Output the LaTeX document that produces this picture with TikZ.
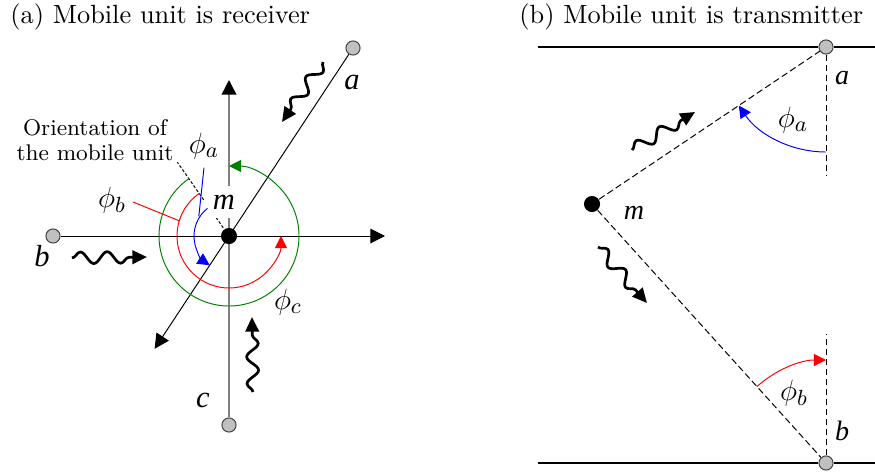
\documentclass[tikz,border=0pt]{standalone}
\usepackage{fontspec}
\newfontfamily\tms{Liberation Serif}
\usetikzlibrary{arrows.meta,decorations.pathmorphing,calc}
\definecolor{dgreen}{RGB}{0,128,0}
\definecolor{srcgray}{RGB}{192,192,192}
\begin{document}
\begin{tikzpicture}[x=0.41pt,y=0.41pt,
  tip/.style={-{Triangle[length=6pt,width=6pt]}},
  arctip/.style={-{Triangle[length=5pt,width=5pt]}},
  src/.style={circle,draw=black!75,fill=srcgray,line width=0.4pt,minimum size=5.8pt,inner sep=0pt},
  mdot/.style={circle,fill=black,minimum size=6.6pt,inner sep=0pt},
  wave/.style={line width=1.1pt,decorate,decoration={snake,amplitude=2.4pt,segment length=11pt,post length=4.5pt},-{Triangle[length=6pt,width=5.5pt]}},
  letA/.style={font=\fontsize{12.5}{14}\tms\itshape},
  letB/.style={font=\fontsize{11.5}{13}\tms\itshape},
  philab/.style={font=\fontsize{12.5}{14}\selectfont},
  title/.style={anchor=west,inner sep=0pt,font=\fontsize{10.8}{13}\selectfont},
  dashline/.style={dash pattern=on 2.7pt off 1.4pt,line width=0.4pt},
  orient/.style={dash pattern=on 1.2pt off 0.8pt,line width=0.4pt},
  thinl/.style={line width=0.4pt}
]
\useasboundingbox (0,0) rectangle (875,474);

% ---------------- panel (a) ----------------
\node[title] (ta) at (10,457) {(a) Mobile unit is receiver};
\coordinate (m) at (229,238);
\node[src] (a) at (353,426) {};
\node[src] (b) at (53,238) {};
\node[src] (c) at (229,49) {};
\coordinate (xe) at (385,238);
\coordinate (ye) at (229,394);
\coordinate (de) at ($(m)!-0.6!(a)$);
\coordinate (o1) at ($(m)+(125:10)$);
\coordinate (o2) at ($(m)+(125:90)$);

\draw[orient] (o1) -- (o2);
\draw[thinl,tip] (b) -- (xe);
\draw[gray,line width=0.6pt,-{Triangle[length=6pt,width=6pt,color=black]}] (c) -- (ye);
\node[letA,fill=white,inner sep=3.5pt] (ml) at (224,272) {m};
\draw[thinl,tip] (a) -- (de);

% angle arcs
\draw[blue,thinl,arctip] ($(m)+(128:35)$) arc[start angle=128,end angle=236.6,radius=35];
\draw[red,thinl,arctip] ($(m)+(125:52)$) arc[start angle=125,end angle=360,radius=52];
\draw[dgreen,thinl,arctip] ($(m)+(125:70)$) arc[start angle=125,end angle=450,radius=70];
\node[mdot] (md) at (m) {};

% labels
\node[letA] (la) at (352,392) {a};
\node[letA] (lb) at (42,218) {b};
\node[letA] (lc) at (203,74) {c};
\node[philab] (pa) at (204,328) {$\phi_a$};
\node[philab] (pb) at (112,274) {$\phi_b$};
\node[philab] (pc) at (288,172) {$\phi_c$};
\node[font=\fontsize{9.3}{10}\selectfont,align=center] (orl) at (95,334) {Orientation of\\the mobile unit};
\coordinate (pbe) at (133,272);
\draw[red,thinl] (pbe) -- ($(m)+(163:52)$);
\draw[blue,thinl] (pa.south) -- ($(m)+(147:36)$);

% waves
\coordinate (wa1) at (323,412); \coordinate (wa2) at (282,352);
\coordinate (wb1) at (72,216);  \coordinate (wb2) at (147,217);
\coordinate (wc1) at (253,82);  \coordinate (wc2) at (252,157);
\draw[wave] (wa1) -- (wa2);
\draw[wave] (wb1) -- (wb2);
\draw[wave] (wc1) -- (wc2);

% ---------------- panel (b) ----------------
\node[title] (tb) at (519,457) {(b) Mobile unit is transmitter};
\node[src] (a2) at (826,427) {};
\node[src] (b2) at (826,11) {};
\node[mdot] (m2) at (592,270) {};
\coordinate (tl) at (538,427); \coordinate (tr) at (875,427);
\coordinate (bl) at (538,11);  \coordinate (br) at (875,11);
\draw[line width=1.2pt] (tl) -- (a2);
\draw[line width=1.2pt] (a2) -- (tr);
\draw[line width=1.2pt] (bl) -- (b2);
\draw[line width=1.2pt] (b2) -- (br);
\coordinate (av) at (826,298);
\coordinate (bv) at (826,140);
\draw[dashline] (a2) -- (av);
\draw[dashline] (b2) -- (bv);
\draw[dashline] (m2) -- (a2);
\draw[dashline] (m2) -- (b2);
\draw[blue,thinl,arctip] ($(a2)+(270:105)$) arc[start angle=270,end angle=213.9,radius=105];
\draw[red,thinl,arctip] ($(b2)+(132.1:103)$) arc[start angle=132.1,end angle=90,radius=103];
\node[philab] (pa2) at (793,354) {$\phi_a$};
\node[philab] (pb2) at (794,81) {$\phi_b$};
\node[letB] (la2) at (842,396) {a};
\node[letB] (lb2) at (842,43) {b};
\node[letB] (lm2) at (634,261) {m};
\coordinate (w21) at (632,324); \coordinate (w22) at (695,362);
\coordinate (w31) at (598,227); \coordinate (w32) at (647,171);
\draw[wave] (w21) -- (w22);
\draw[wave] (w31) -- (w32);
\end{tikzpicture}
\end{document}
